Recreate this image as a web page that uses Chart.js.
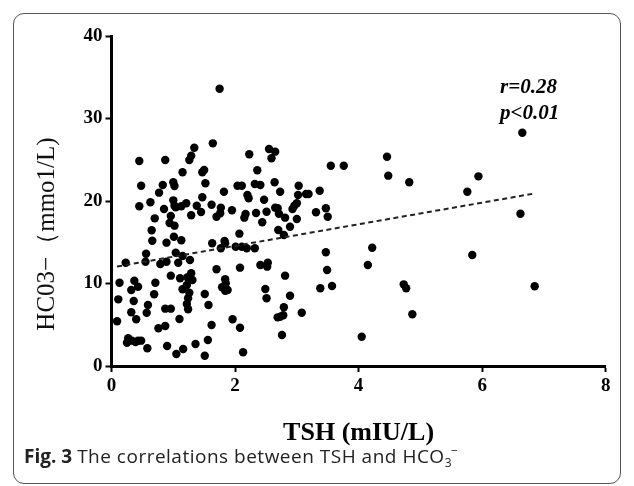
<!DOCTYPE html>
<html>
<head>
<meta charset="utf-8">
<script src="https://cdn.jsdelivr.net/npm/chart.js@4.4.1/dist/chart.umd.min.js"></script>
<style>
  html, body { margin:0; padding:0; background:#fff; }
  body { width:634px; height:486px; position:relative; overflow:hidden; }
  #frame { position:absolute; left:13px; top:13px; width:608px; height:471px; border:1.5px solid #555; border-radius:11px; box-sizing:border-box; }
  #c { position:absolute; left:0; top:0; }
  #cap { position:absolute; left:24px; top:443px; font-family:"Open Sans", sans-serif; font-size:19px; line-height:26px; color:#222; white-space:nowrap; }
  #cap b { font-weight:700; }
  #cap span { letter-spacing:0.5px; }
  #cap sub { font-size:12px; vertical-align:-4px; line-height:0; }
  #cap sup { font-size:12px; vertical-align:8px; margin-left:-1px; line-height:0; }
</style>
</head>
<body>
<div id="frame"></div>
<canvas id="c" width="634" height="486"></canvas>
<div id="cap"><b>Fig. 3</b> <span>The correlations between TSH and HCO<sub>3</sub><sup>−</sup></span></div>
<script>
// TSH (mIU/L) values
const tshValues = [
  0.45,0.87,1.34,1.64,1.29,1.26,1.15,1.50,1.47,0.48,0.83,1.00,1.02,1.52,0.77,1.47,0.45,0.63,0.85,1.00,
  1.02,1.04,1.13,1.21,1.38,1.45,1.29,1.62,1.70,1.76,1.77,0.70,0.96,0.94,1.02,0.65,0.66,0.89,1.01,1.13,
  1.63,0.56,1.04,
  2.23,2.55,2.65,2.59,3.55,2.36,1.82,2.04,2.11,2.20,2.22,2.32,2.41,2.64,2.73,2.47,3.03,3.02,3.15,3.19,
  3.37,1.95,2.17,2.15,2.34,2.51,2.65,2.69,2.71,2.81,2.44,2.96,3.00,2.93,3.00,2.89,3.31,3.47,3.50,2.70,
  2.79,2.07,1.83,1.84,1.77,2.01,2.11,2.19,2.32,3.47,
  0.23,0.55,0.79,0.89,1.15,1.08,1.27,1.70,0.13,0.37,0.32,0.43,0.71,0.96,1.11,1.23,1.29,1.31,1.22,1.15,
  1.26,1.24,1.22,0.11,0.36,0.69,0.59,0.57,0.32,0.40,0.87,0.96,0.09,1.24,1.10,0.76,0.87,1.51,1.57,1.62,
  0.27,0.25,0.33,0.39,0.43,0.48,0.58,0.90,1.16,1.05,1.36,1.56,1.51,
  2.08,2.41,2.53,2.52,3.49,2.81,1.84,1.85,1.79,1.84,1.88,2.49,2.51,2.89,3.57,3.38,2.79,2.78,2.73,2.69,
  3.08,1.96,2.08,2.76,2.13,
  1.75,4.46,3.76,4.48,4.82,4.22,4.15,4.73,4.77,4.87,4.05,6.65,5.94,5.76,6.62,5.84,6.85
];
// HCO3- (mmol/L) values, same order
const hco3Values = [
  24.85,24.97,26.46,26.99,25.49,24.97,23.48,23.76,23.48,21.85,21.94,22.27,21.82,22.15,21.01,20.45,19.36,19.84,19.03,20.08,
  19.43,19.24,19.36,19.72,19.43,18.67,18.27,19.55,18.10,18.51,19.19,17.90,18.18,17.33,17.01,16.45,15.19,14.95,15.67,15.24,
  14.87,13.61,13.73,
  25.66,26.30,25.98,25.18,24.28,23.72,21.13,21.85,21.85,20.73,20.33,22.06,21.94,22.27,21.13,20.16,21.85,20.73,20.85,20.85,
  21.25,18.87,18.42,17.98,18.55,18.70,19.19,19.12,18.46,17.98,17.42,19.43,19.72,19.03,17.82,16.88,18.63,19.12,18.10,16.48,
  15.88,16.04,15.15,14.87,14.27,14.46,14.46,14.27,14.27,13.78,
  12.52,12.64,12.36,12.64,13.33,12.52,12.85,11.72,10.10,10.34,9.21,9.61,10.10,10.95,10.63,10.75,11.24,10.42,9.82,9.30,
  8.88,8.21,7.52,8.08,7.88,8.69,7.39,6.46,6.51,5.66,6.95,6.95,5.42,6.87,5.70,4.57,4.85,8.73,7.39,4.97,
  3.36,2.82,3.07,2.91,3.07,3.07,2.15,2.42,2.06,1.45,2.67,3.15,1.25,
  11.92,12.24,12.52,12.04,11.64,10.95,10.51,10.02,9.54,9.13,9.21,9.33,8.21,8.52,9.70,9.42,7.12,6.15,5.98,5.90,
  6.46,5.66,4.64,3.76,1.66,
  33.61,25.37,24.28,23.07,22.27,14.34,12.24,9.90,9.42,6.27,3.55,28.28,22.99,21.13,18.46,13.45,9.66
];
// Regression line
const fitSlope = 1.31;
const fitIntercept = 11.94;
// Axis ticks
const xTicks = [0, 2, 4, 6, 8];
const yTicks = [0, 10, 20, 30, 40];
// Texts
const xTitle = 'TSH (mIU/L)';
const yTitle = 'HC03−（mmo1/L)';
const yTitleCenter = 16;      // data value at which the y title is centred
const statLines = ['r=0.28', 'p<0.01'];
const statX = 6.29;
const statY = [33.1, 29.9];

const points = tshValues.map((v, i) => ({ x: v, y: hco3Values[i] }));
const xMin = Math.min(...tshValues), xMax = Math.max(...tshValues);
const fitLine = [xMin, xMax].map(v => ({ x: v, y: fitIntercept + fitSlope * v }));

const textPlugin = {
  id: 'extraText',
  afterDraw(chart) {
    const { ctx, scales: { x, y } } = chart;
    ctx.save();
    ctx.fillStyle = '#000';
    ctx.font = 'italic bold 21px "Liberation Serif", serif';
    ctx.textAlign = 'left';
    ctx.textBaseline = 'alphabetic';
    statLines.forEach((t, i) => ctx.fillText(t, x.getPixelForValue(statX), y.getPixelForValue(statY[i])));
    // y axis title
    ctx.font = '25px "Liberation Serif", serif';
    ctx.fillStyle = '#111';
    ctx.textAlign = 'center';
    ctx.textBaseline = 'middle';
    ctx.translate(y.left + 47, y.getPixelForValue(yTitleCenter));
    ctx.rotate(-Math.PI / 2);
    ctx.fillText(yTitle, 0, 0);
    ctx.restore();
  }
};

const tickFont = { family: '"Liberation Serif", serif', size: 19, weight: 'bold' };

new Chart(document.getElementById('c'), {
  type: 'scatter',
  data: {
    datasets: [
      {
        data: points,
        pointRadius: 4.2,
        pointHoverRadius: 4.2,
        backgroundColor: '#000',
        borderWidth: 0,
        order: 1
      },
      {
        type: 'line',
        data: fitLine,
        showLine: true,
        borderColor: '#222',
        borderWidth: 2,
        borderDash: [5, 3.5],
        pointRadius: 0,
        fill: false,
        order: 0
      }
    ]
  },
  options: {
    responsive: false,
    animation: false,
    devicePixelRatio: 1,
    layout: { padding: { top: 36, right: 28.3, left: 0, bottom: 0 } },
    plugins: { legend: { display: false }, tooltip: { enabled: false } },
    scales: {
      x: {
        type: 'linear',
        min: 0, max: 8,
        afterBuildTicks: s => { s.ticks = xTicks.map(v => ({ value: v })); },
        afterFit: s => { s.height = 120; },
        ticks: { font: tickFont, color: '#000', padding: 3, maxRotation: 0 },
        grid: { drawOnChartArea: false, drawTicks: true, tickLength: 6, tickWidth: 2, color: '#000' },
        border: { display: true, width: 3, color: '#000' },
        title: {
          display: true,
          text: xTitle,
          color: '#000',
          font: { family: '"Liberation Serif", serif', size: 26, weight: 'bold' },
          padding: { top: 0, bottom: 37 }
        }
      },
      y: {
        type: 'linear',
        min: 0, max: 40,
        afterBuildTicks: s => { s.ticks = yTicks.map(v => ({ value: v })); },
        afterFit: s => { s.width = 111.5; },
        ticks: { font: tickFont, color: '#000', padding: 3 },
        grid: { drawOnChartArea: false, drawTicks: true, tickLength: 6, tickWidth: 2, color: '#000' },
        border: { display: true, width: 3, color: '#000' },
        title: { display: false }
      }
    }
  },
  plugins: [textPlugin]
});
</script>
</body>
</html>
